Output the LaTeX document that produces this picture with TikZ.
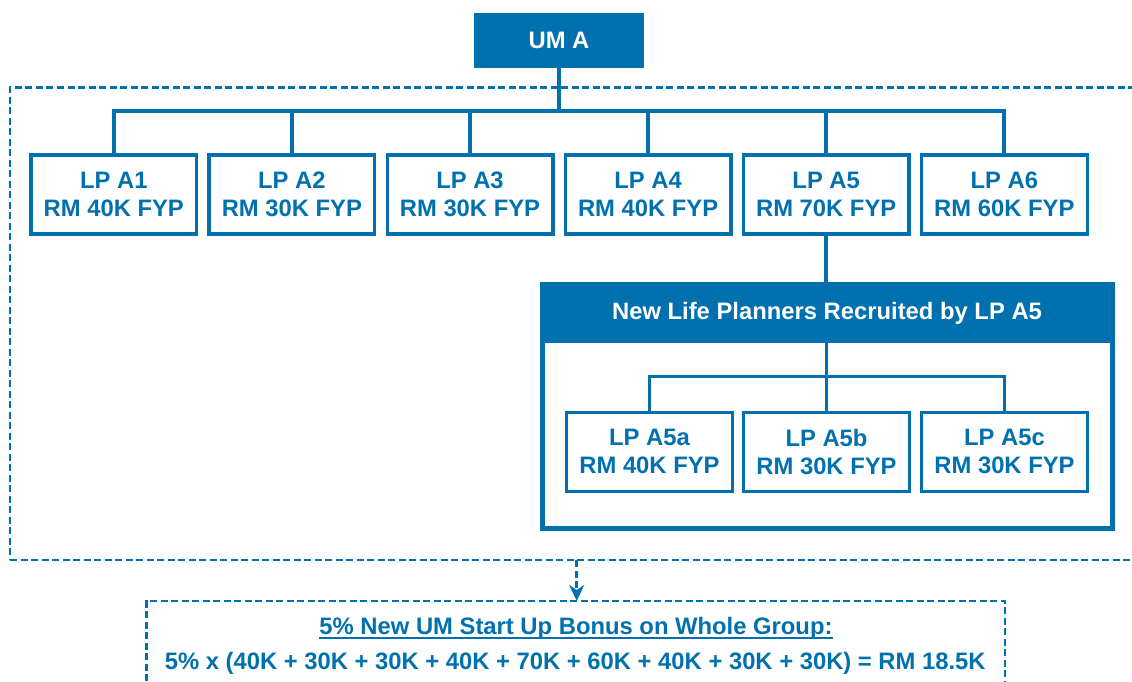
\documentclass[tikz,border=0pt]{standalone}
\usepackage{fontspec}
\setmainfont{Liberation Sans}
\usetikzlibrary{arrows.meta}
\definecolor{pblue}{RGB}{0,113,174}
% bold underline with a heavier rule than \underline gives
\newcommand\ulbold[1]{\setbox0\hbox{#1}\rlap{\rule[-5pt]{\wd0}{2.6pt}}\box0}

\begin{document}
\begin{tikzpicture}[x=1pt,y=-1pt,
  every node/.style={font=\fontsize{23.8}{28}\selectfont\bfseries, inner sep=0pt, outer sep=0pt},
  lpbox/.style={draw=pblue, line width=3.3pt, fill=white, text=pblue, align=center,
                minimum width=165.7pt, minimum height=79pt},
  headbox/.style={fill=pblue, text=white},
  conn/.style={draw=pblue, line width=4pt},
  subconn/.style={draw=pblue, line width=3.3pt},
  dashbox/.style={draw=pblue, line width=2.5pt, dash pattern=on 7pt off 3.5pt},
]
\useasboundingbox (0,0) rectangle (1132,682);
\clip (0,0) rectangle (1132,682);

% whole group (dashed frame)
\node[dashbox, minimum width=1140pt, minimum height=472.5pt] (whole) at (580,323.75) {};

% unit manager
\node[headbox, minimum width=170pt, minimum height=55.6pt] (uma) at (559,40.5) {UM A};

% life planners
\node[lpbox] (a1) at (113.8,194.5)  {LP A1\\RM 40K FYP};
\node[lpbox] (a2) at (291.9,194.5)  {LP A2\\RM 30K FYP};
\node[lpbox] (a3) at (470.0,194.5)  {LP A3\\RM 30K FYP};
\node[lpbox] (a4) at (648.1,194.5)  {LP A4\\RM 40K FYP};
\node[lpbox] (a5) at (826.2,194.5)  {LP A5\\RM 70K FYP};
\node[lpbox] (a6) at (1004.3,194.5) {LP A6\\RM 60K FYP};

\coordinate (bus) at (559,111);
\draw[conn] (uma.south) -- (uma.south |- bus);
\draw[conn] (a1.north) |- (bus) -| (a6.north);
\foreach \n in {a2,a3,a4,a5} \draw[conn] (\n.north) -- (\n.north |- bus);

% recruits of LP A5
\node[draw=pblue, line width=5pt, minimum width=570pt, minimum height=244pt] (grp) at (827,406) {};
\node[headbox, minimum width=575pt, minimum height=61.3pt, text height=17pt, text depth=3.7pt]
  (hdr) at (827,312.35) {New Life Planners Recruited by LP A5};
\draw[conn] (a5.south) -- (a5.south |- hdr.north);

\node[lpbox] (a5a) at (649.5,451.7)  {LP A5a\\RM 40K FYP};
\node[lpbox] (a5b) at (826.5,451.7)  {LP A5b\\RM 30K FYP};
\node[lpbox] (a5c) at (1004.5,451.7) {LP A5c\\RM 30K FYP};

\coordinate (sbus) at (826.5,376.5);
\draw[subconn] (a5a.north) |- (sbus) -| (a5c.north);
\draw[subconn] (a5b.north |- hdr.south) -- (a5b.north);

% bonus
\node[dashbox, minimum width=858.3pt, minimum height=100pt] (bonus) at (575.85,651) {};
\node[text=pblue, anchor=base] (btitle) at (576,634.3)
  {\ulbold{5\% New UM Start Up Bonus on Whole Group:}};
\node[text=pblue, anchor=base] (bcalc) at (575.3,669.3)
  {5\% x (40K + 30K + 30K + 40K + 70K + 60K + 40K + 30K + 30K) = RM 18.5K};

\coordinate (drop) at (576.7,601);
\draw[dashbox, -{Stealth[length=16pt,width=15pt,inset=5pt]}]
  (drop |- whole.south) -- (bonus.north -| drop);
\end{tikzpicture}
\end{document}
